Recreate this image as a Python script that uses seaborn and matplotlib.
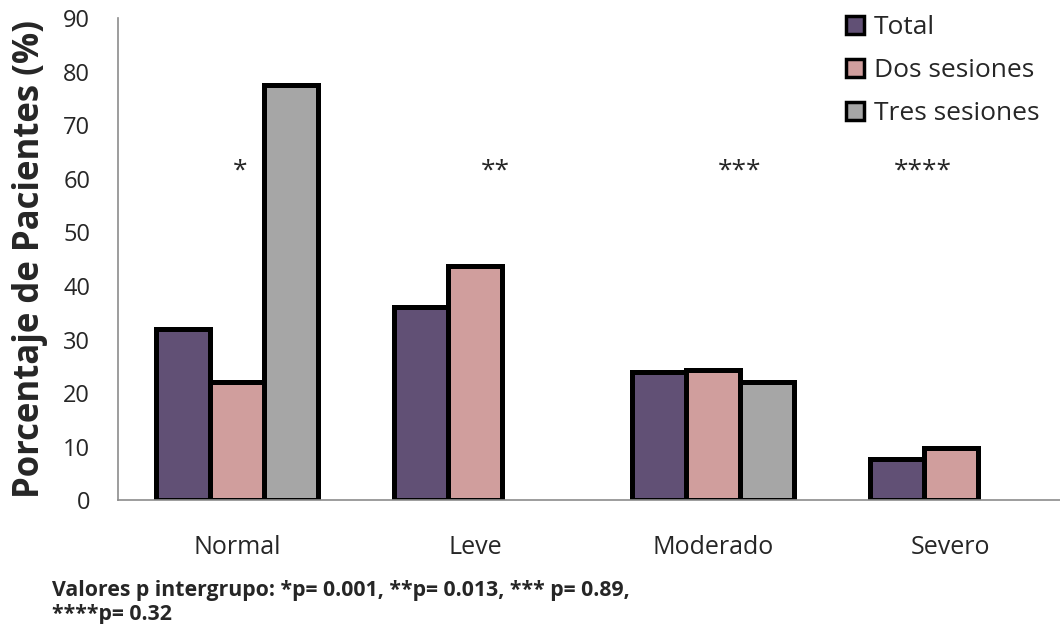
import matplotlib
matplotlib.use("Agg")
import matplotlib.pyplot as plt
import seaborn as sns
import pandas as pd
import numpy as np

categories = ["Normal", "Leve", "Moderado", "Severo"]
series_names = ["Total", "Dos sesiones", "Tres sesiones"]
total = [32, 36, 24, 7.8]
dos_sesiones = [22, 43.7, 24.4, 9.7]
tres_sesiones = [77.5, None, 22, None]
markers = ["*", "**", "***", "****"]
marker_x = [0.013, 1.085, 2.11, 2.88]
marker_y = 61.5
y_ticks = [0, 10, 20, 30, 40, 50, 60, 70, 80, 90]
footnote = "Valores p intergrupo: *p= 0.001, **p= 0.013, *** p= 0.89,\n****p= 0.32"

colors = ["#604A7B", "#D99694", "#A6A6A6"]

rows = []
for name, vals in zip(series_names, [total, dos_sesiones, tres_sesiones]):
    for cat, v in zip(categories, vals):
        if v is not None:
            rows.append({"Grado": cat, "Grupo": name, "Porcentaje": v})
df = pd.DataFrame(rows)

sns.set_theme(style="white")
plt.rcParams["font.family"] = ["Open Sans", "DejaVu Sans"]

fig = plt.figure(figsize=(10.6, 6.24), dpi=100)
ax = fig.add_axes([0.1113, 0.1982, 0.8887, 0.773])

sns.barplot(data=df, x="Grado", y="Porcentaje", hue="Grupo",
            order=categories, hue_order=series_names,
            palette=colors, width=0.68, edgecolor="black",
            linewidth=3.6, errorbar=None, ax=ax, legend=True)

ax.set_ylim(0, 90)
ax.set_xlim(-0.5, -0.5 + 942 / 238)
ax.set_yticks(y_ticks)
ax.set_yticklabels([str(t) for t in y_ticks], fontsize=17)
ax.tick_params(axis="y", length=0, pad=20)
ax.tick_params(axis="x", length=0, pad=25, labelsize=18)
ax.set_xlabel("")
ax.set_ylabel("Porcentaje de Pacientes (%)", fontsize=25, fontweight="bold",
              labelpad=11)

for side in ["top", "right"]:
    ax.spines[side].set_visible(False)
for side in ["left", "bottom"]:
    ax.spines[side].set_color("#8c8c8c")
    ax.spines[side].set_linewidth(1.2)

for txt, xv in zip(markers, marker_x):
    ax.text(xv, marker_y, txt, ha="center", va="center", fontsize=19)

handles, labels = ax.get_legend_handles_labels()
leg = ax.legend(handles, labels, loc="upper right", bbox_to_anchor=(1.003, 1.055),
                frameon=False, fontsize=19, handlelength=0.7, handleheight=0.7,
                handletextpad=0.35, labelspacing=0.68)
for h in leg.legend_handles:
    h.set_linewidth(2.5)

fig.text(0.049, -0.002, footnote, fontsize=15.3, fontweight="bold",
         ha="left", va="bottom", linespacing=1.2)

fig.savefig("out.png", dpi=100)
